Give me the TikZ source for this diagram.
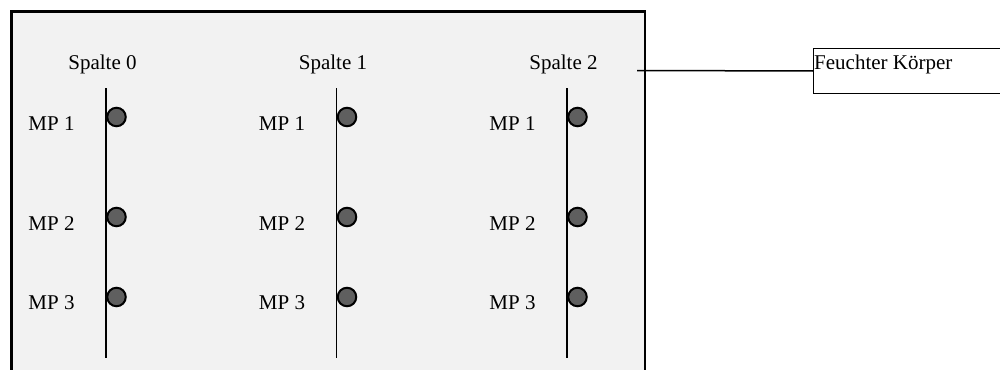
\documentclass[tikz,border=0pt]{standalone}
\usepackage{fontspec}
\setmainfont{Liberation Serif}
\definecolor{bodygray}{HTML}{F2F2F2}
\definecolor{probegray}{HTML}{5F5F5F}
\begin{document}
\begin{tikzpicture}[x=1pt,y=-1pt,
  font=\fontsize{21}{25}\selectfont,
  body/.style={draw=black, fill=bodygray, line width=2.8pt, anchor=north west, inner sep=0},
  probe/.style={circle, draw=black, fill=probegray, line width=2pt, minimum size=18.5pt, inner sep=0},
  lbl/.style={anchor=base, inner sep=0},
  rod/.style={line width=1.9pt},
  lead/.style={line width=1.5pt},
  tagbox/.style={draw=black, line width=1pt, anchor=north west, inner sep=0}]
\useasboundingbox (0,0) rectangle (1000,369);
\clip (0,0) rectangle (1000,369);
\node[body, minimum width=633.5pt, minimum height=420pt] (body) at (10,10) {};
\foreach \i/\x in {0/106,1/336.5,2/567} {
  \node[lbl] (sp\i) at (\x-3.5,70) {Spalte \i};
  \coordinate (top\i) at (\x,88);
  \coordinate (bot\i) at (\x,358);
  \draw[rod] (top\i) -- (bot\i);
  \foreach \m/\yb/\yc in {1/130/117,2/230/217,3/309/297} {
    \node[lbl] (mp\i\m) at (\x-54.5,\yb) {MP \m};
    \node[probe] (p\i\m) at (\x+10.5,\yc) {};
  }
}
\coordinate (cstart) at (637,70.5);
\node[tagbox, minimum width=250pt, minimum height=45pt] (fk) at (813,48) {};
\node[lbl, anchor=base west] (fktext) at (814,69) {Feuchter Körper};
\draw[lead] (cstart) -- (fk.west);
\end{tikzpicture}
\end{document}
